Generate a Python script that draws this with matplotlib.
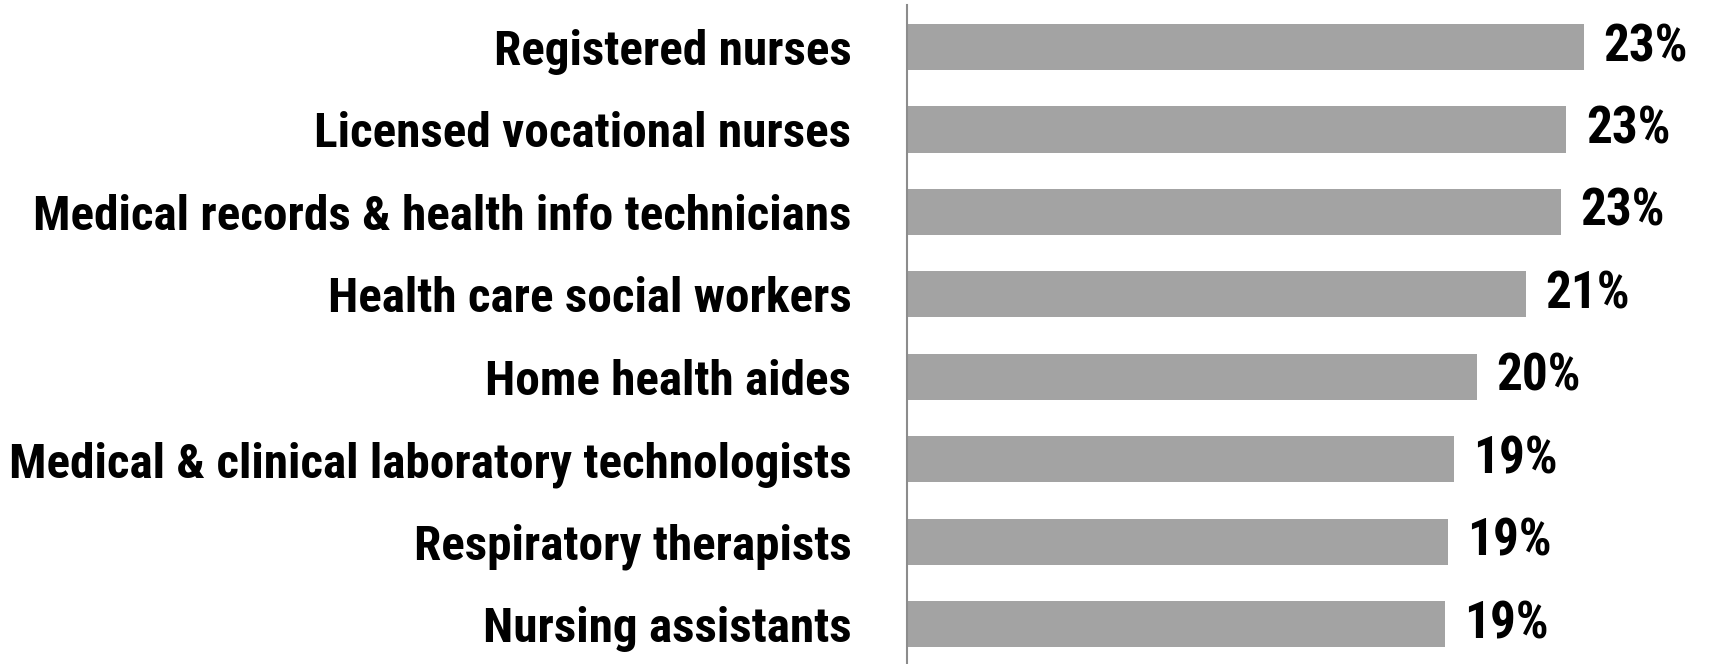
import matplotlib.pyplot as plt
import numpy as np

# --- Data ---
OCCUPATIONS = [
    "Registered nurses",
    "Licensed vocational nurses",
    "Medical records & health info technicians",
    "Health care social workers",
    "Home health aides",
    "Medical & clinical laboratory technologists",
    "Respiratory therapists",
    "Nursing assistants",
]
SHARES = [23.4, 22.8, 22.6, 21.4, 19.7, 18.9, 18.7, 18.6]
SHARE_LABELS = ["23%", "23%", "23%", "21%", "20%", "19%", "19%", "19%"]

# --- Style ---
BAR_COLOR = "#a3a3a3"
AXIS_COLOR = "#8c8c8c"
FONT = ["Roboto Condensed", "Open Sans Condensed", "Liberation Sans Narrow", "Roboto", "DejaVu Sans"]
LABEL_SIZE = 35.5
VALUE_SIZE = 37

plt.rcParams["font.family"] = FONT
plt.rcParams["font.weight"] = "bold"
plt.rcParams["font.stretch"] = "condensed"

fig = plt.figure(figsize=(17.11, 6.64), dpi=100)
ax = fig.add_axes([0.530, 0.0, 0.470, 0.9925])

y = np.arange(len(OCCUPATIONS))
bars = ax.barh(y, SHARES, height=0.56, color=BAR_COLOR, edgecolor="none")

for bar, label in zip(bars, SHARE_LABELS):
    ax.annotate(
        label,
        xy=(bar.get_width(), bar.get_y() + bar.get_height() / 2),
        xytext=(14, 0),
        textcoords="offset points",
        va="center",
        ha="left",
        fontsize=VALUE_SIZE,
        fontweight="bold",
        color="black",
    )

ax.set_yticks(y)
ax.set_yticklabels(OCCUPATIONS, fontsize=LABEL_SIZE, fontweight="bold")
ax.tick_params(axis="y", length=0, pad=40)
ax.set_xticks([])
ax.set_xlim(0, 27.8)
ax.set_ylim(len(OCCUPATIONS) - 0.515, -0.51)

for side in ["top", "right", "bottom"]:
    ax.spines[side].set_visible(False)
ax.spines["left"].set_color(AXIS_COLOR)
ax.spines["left"].set_linewidth(1.5)

plt.savefig("out.png", dpi=100)
